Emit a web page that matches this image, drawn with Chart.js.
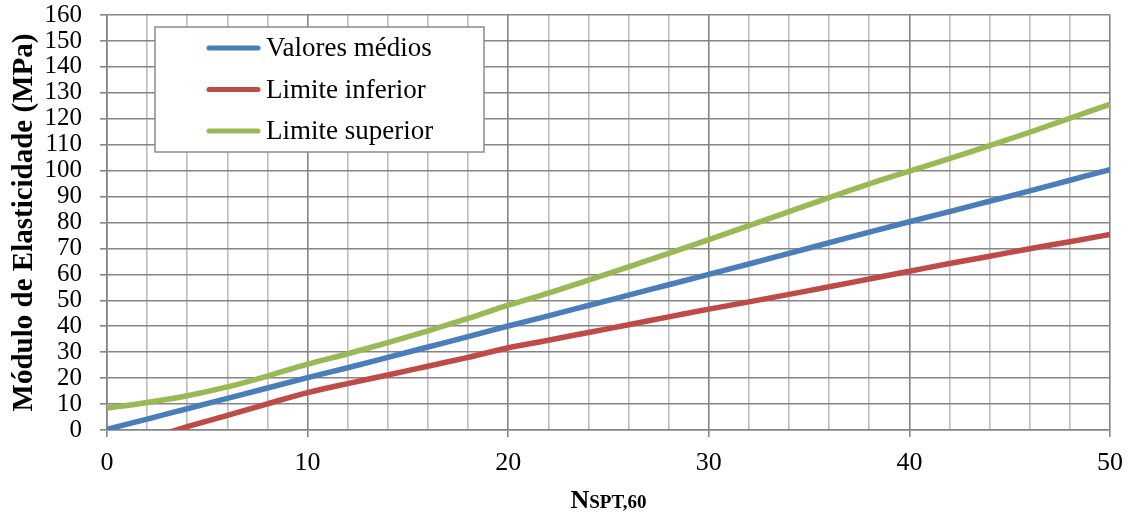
<!DOCTYPE html>
<html>
<head>
<meta charset="utf-8">
<script src="https://cdn.jsdelivr.net/npm/chart.js@4.4.1/dist/chart.umd.min.js"></script>
<style>
  body { margin: 0; background: #fff; }
  #wrap { width: 1132px; height: 515px; position: relative; }
</style>
</head>
<body>
<div id="wrap"><canvas id="modulo"></canvas></div>
<script>
// N_SPT,60 values (every 2 blows) and the three curves
const nspt = [0, 2, 4, 6, 8, 10, 12, 14, 16, 18, 20, 22, 24, 26, 28, 30, 32, 34, 36, 38, 40, 42, 44, 46, 48, 50];
const valoresMedios = [0.3, 4.2, 8.2, 12.2, 16.2, 20.2, 24.0, 28.0, 32.0, 36.0, 40.1, 44.0, 48.0, 52.0, 56.0, 60.0, 64.0, 68.1, 72.2, 76.3, 80.3, 84.2, 88.2, 92.2, 96.3, 100.4];
const limiteInferior = [-8.5, -3.6, 1.3, 5.6, 10.1, 14.4, 17.9, 21.2, 24.6, 28.0, 31.7, 34.6, 37.6, 40.6, 43.6, 46.6, 49.4, 52.3, 55.2, 58.2, 61.2, 64.2, 67.0, 69.9, 72.6, 75.4];
const limiteSuperior = [8.4, 10.6, 13.2, 16.6, 20.8, 25.4, 29.4, 33.7, 38.2, 43.0, 48.1, 52.8, 57.8, 62.9, 68.1, 73.4, 78.8, 84.2, 89.6, 94.9, 99.8, 104.6, 109.6, 114.8, 120.2, 125.6];
const xLabelTicks = [0, 10, 20, 30, 40, 50];

const serif = '"Liberation Serif", "Times New Roman", serif';
const gridDark = '#858585';
const gridLight = '#bdbdbd';

function pts(ys) {
  return nspt.map((x, i) => ({ x: x, y: ys[i] }));
}

// legend drawn as a boxed panel inside the plot, like the original
const boxLegend = {
  id: 'boxLegend',
  afterDraw(chart) {
    const c = chart.ctx;
    c.save();
    c.fillStyle = '#fff';
    c.strokeStyle = '#8c8c8c';
    c.lineWidth = 1.5;
    c.fillRect(155, 27, 329, 125);
    c.strokeRect(155, 27, 329, 125);
    c.font = '27px ' + serif;
    c.textBaseline = 'middle';
    c.lineCap = 'round';
    chart.data.datasets.forEach((ds, i) => {
      const y = 48 + i * 41.5;
      c.strokeStyle = ds.borderColor;
      c.lineWidth = 5;
      c.beginPath();
      c.moveTo(209, y);
      c.lineTo(258, y);
      c.stroke();
      c.fillStyle = '#000';
      c.fillText(ds.label, 266, y + 1);
    });
    // x axis title: N + small caps SPT,60
    const a = chart.chartArea;
    const cx = (a.left + a.right) / 2;
    c.textBaseline = 'alphabetic';
    c.font = 'bold 26px ' + serif;
    const wN = c.measureText('N').width;
    c.font = 'bold 19px ' + serif;
    const wS = c.measureText('SPT,60').width;
    let x0 = cx - (wN + wS) / 2;
    c.font = 'bold 26px ' + serif;
    c.fillText('N', x0, 508);
    c.font = 'bold 19px ' + serif;
    c.fillText('SPT,60', x0 + wN, 508);
    c.restore();
  }
};

new Chart(document.getElementById('modulo'), {
  type: 'line',
  data: {
    datasets: [
      { label: 'Valores médios', data: pts(valoresMedios), borderColor: '#4a7ebb' },
      { label: 'Limite inferior', data: pts(limiteInferior), borderColor: '#be4b48' },
      { label: 'Limite superior', data: pts(limiteSuperior), borderColor: '#98b954' }
    ]
  },
  options: {
    responsive: true,
    maintainAspectRatio: false,
    animation: false,
    layout: { padding: { top: 15, right: 22, left: 0, bottom: 0 } },
    elements: {
      line: { borderWidth: 5.5, cubicInterpolationMode: 'monotone' },
      point: { radius: 0 }
    },
    plugins: {
      legend: { display: false },
      tooltip: { enabled: false }
    },
    scales: {
      x: {
        type: 'linear',
        min: 0,
        max: 50,
        afterFit: s => { s.height = 85; s.paddingLeft = 0; s.paddingRight = 0; },
        ticks: {
          stepSize: 2,
          autoSkip: false,
          maxRotation: 0,
          padding: 11,
          color: '#000',
          font: { family: serif, size: 26 },
          callback: v => xLabelTicks.includes(v) ? String(v) : ''
        },
        grid: {
          color: ctx => ctx.tick && ctx.tick.value % 10 === 0 ? gridDark : gridLight,
          tickColor: ctx => ctx.tick && ctx.tick.value % 10 === 0 ? gridDark : 'rgba(0,0,0,0)',
          lineWidth: 1.6,
          tickLength: 7
        },
        border: { color: gridDark, width: 1.6 }
      },
      y: {
        min: 0,
        max: 160,
        afterFit: s => { s.width = 107; s.paddingTop = 0; s.paddingBottom = 0; },
        ticks: {
          stepSize: 10,
          autoSkip: false,
          padding: 18,
          color: '#000',
          font: { family: serif, size: 25 }
        },
        grid: { color: gridDark, lineWidth: 1.6, tickLength: 7 },
        border: { color: gridDark, width: 1.6 }, 
        title: {
          display: true,
          text: 'Módulo de Elasticidade (MPa)',
          color: '#000',
          font: { family: serif, size: 29, weight: 'bold' },
          padding: { top: 7, bottom: 0 }
        }
      }
    }
  },
  plugins: [boxLegend]
});
</script>
</body>
</html>
